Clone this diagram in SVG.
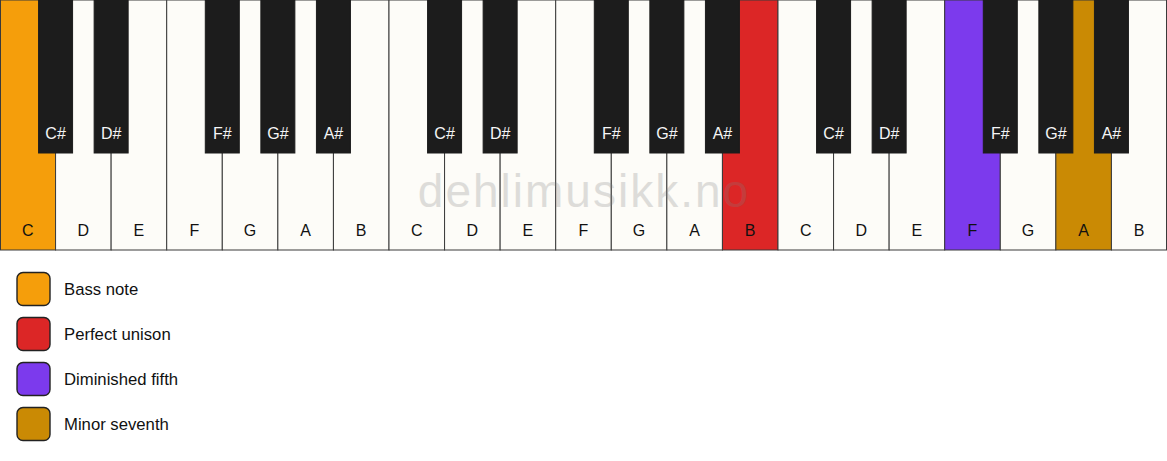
<svg xmlns="http://www.w3.org/2000/svg" width="1167" height="461" viewBox="0 0 1167 461">
<style>
.w{fill:#fdfcf8;stroke:#3a3a3a;stroke-width:1}
.b{fill:#1c1c1c;stroke:#1c1c1c;stroke-width:1}
.wl{font-family:"Liberation Sans",Arial,sans-serif;font-size:16px;fill:#111;text-anchor:middle}
.bl{font-family:"Liberation Sans",Arial,sans-serif;font-size:16px;fill:#f5f5f5;text-anchor:middle}
.lg{stroke:#222;stroke-width:1.4}
.lt{font-family:"Liberation Sans",Arial,sans-serif;font-size:16.7px;fill:#111}
.wm{font-family:"Liberation Sans",Arial,sans-serif;font-size:46px;fill:#808080;opacity:0.25;text-anchor:middle;letter-spacing:2px}
</style>
<rect width="1167" height="461" fill="#ffffff"/>
<g id="white-keys">
<rect class="w" x="0.5" y="0" width="55.07" height="250" style="fill:#f59e0b"/>
<rect class="w" x="55.57" y="0" width="55.57" height="250"/>
<rect class="w" x="111.14" y="0" width="55.57" height="250"/>
<rect class="w" x="166.71" y="0" width="55.57" height="250"/>
<rect class="w" x="222.29" y="0" width="55.57" height="250"/>
<rect class="w" x="277.86" y="0" width="55.57" height="250"/>
<rect class="w" x="333.43" y="0" width="55.57" height="250"/>
<rect class="w" x="389" y="0" width="55.57" height="250"/>
<rect class="w" x="444.57" y="0" width="55.57" height="250"/>
<rect class="w" x="500.14" y="0" width="55.57" height="250"/>
<rect class="w" x="555.71" y="0" width="55.57" height="250"/>
<rect class="w" x="611.29" y="0" width="55.57" height="250"/>
<rect class="w" x="666.86" y="0" width="55.57" height="250"/>
<rect class="w" x="722.43" y="0" width="55.57" height="250" style="fill:#dc2626"/>
<rect class="w" x="778" y="0" width="55.57" height="250"/>
<rect class="w" x="833.57" y="0" width="55.57" height="250"/>
<rect class="w" x="889.14" y="0" width="55.57" height="250"/>
<rect class="w" x="944.71" y="0" width="55.57" height="250" style="fill:#7c3aed"/>
<rect class="w" x="1000.29" y="0" width="55.57" height="250"/>
<rect class="w" x="1055.86" y="0" width="55.57" height="250" style="fill:#ca8a04"/>
<rect class="w" x="1111.43" y="0" width="55.07" height="250"/>
</g>
<g id="white-labels">
<text class="wl" x="27.79" y="236">C</text>
<text class="wl" x="83.36" y="236">D</text>
<text class="wl" x="138.93" y="236">E</text>
<text class="wl" x="194.5" y="236">F</text>
<text class="wl" x="250.07" y="236">G</text>
<text class="wl" x="305.64" y="236">A</text>
<text class="wl" x="361.21" y="236">B</text>
<text class="wl" x="416.79" y="236">C</text>
<text class="wl" x="472.36" y="236">D</text>
<text class="wl" x="527.93" y="236">E</text>
<text class="wl" x="583.5" y="236">F</text>
<text class="wl" x="639.07" y="236">G</text>
<text class="wl" x="694.64" y="236">A</text>
<text class="wl" x="750.21" y="236">B</text>
<text class="wl" x="805.79" y="236">C</text>
<text class="wl" x="861.36" y="236">D</text>
<text class="wl" x="916.93" y="236">E</text>
<text class="wl" x="972.5" y="236">F</text>
<text class="wl" x="1028.07" y="236">G</text>
<text class="wl" x="1083.64" y="236">A</text>
<text class="wl" x="1139.21" y="236">B</text>
</g>
<g id="black-keys">
<rect class="b" x="38.57" y="0" width="34" height="153"/>
<rect class="b" x="94.14" y="0" width="34" height="153"/>
<rect class="b" x="205.29" y="0" width="34" height="153"/>
<rect class="b" x="260.86" y="0" width="34" height="153"/>
<rect class="b" x="316.43" y="0" width="34" height="153"/>
<rect class="b" x="427.57" y="0" width="34" height="153"/>
<rect class="b" x="483.14" y="0" width="34" height="153"/>
<rect class="b" x="594.29" y="0" width="34" height="153"/>
<rect class="b" x="649.86" y="0" width="34" height="153"/>
<rect class="b" x="705.43" y="0" width="34" height="153"/>
<rect class="b" x="816.57" y="0" width="34" height="153"/>
<rect class="b" x="872.14" y="0" width="34" height="153"/>
<rect class="b" x="983.29" y="0" width="34" height="153"/>
<rect class="b" x="1038.86" y="0" width="34" height="153"/>
<rect class="b" x="1094.43" y="0" width="34" height="153"/>
</g>
<g id="black-labels">
<text class="bl" x="55.57" y="139">C#</text>
<text class="bl" x="111.14" y="139">D#</text>
<text class="bl" x="222.29" y="139">F#</text>
<text class="bl" x="277.86" y="139">G#</text>
<text class="bl" x="333.43" y="139">A#</text>
<text class="bl" x="444.57" y="139">C#</text>
<text class="bl" x="500.14" y="139">D#</text>
<text class="bl" x="611.29" y="139">F#</text>
<text class="bl" x="666.86" y="139">G#</text>
<text class="bl" x="722.43" y="139">A#</text>
<text class="bl" x="833.57" y="139">C#</text>
<text class="bl" x="889.14" y="139">D#</text>
<text class="bl" x="1000.29" y="139">F#</text>
<text class="bl" x="1055.86" y="139">G#</text>
<text class="bl" x="1111.43" y="139">A#</text>
</g>
<text class="wm" x="584" y="207">dehlimusikk.no</text>
<g id="legend">
<g id="legend-bass"><rect class="lg" x="17" y="272.5" width="33" height="33" rx="6" fill="#f59e0b"/><text class="lt" x="64" y="295">Bass note</text></g>
<g id="legend-unison"><rect class="lg" x="17" y="317.5" width="33" height="33" rx="6" fill="#dc2626"/><text class="lt" x="64" y="340">Perfect unison</text></g>
<g id="legend-fifth"><rect class="lg" x="17" y="362.5" width="33" height="33" rx="6" fill="#7c3aed"/><text class="lt" x="64" y="385">Diminished fifth</text></g>
<g id="legend-seventh"><rect class="lg" x="17" y="407.5" width="33" height="33" rx="6" fill="#ca8a04"/><text class="lt" x="64" y="430">Minor seventh</text></g>
</g>
</svg>
